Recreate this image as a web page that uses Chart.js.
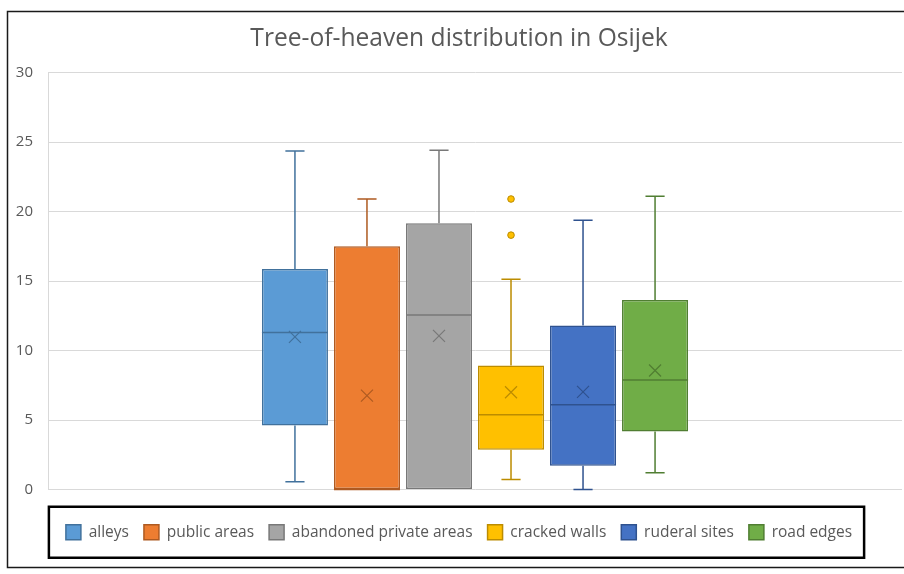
<!DOCTYPE html>
<html>
<head>
<meta charset="utf-8">
<title>Tree-of-heaven distribution in Osijek</title>
<script src="https://cdn.jsdelivr.net/npm/chart.js@4"></script>
<style>
    html, body { margin: 0; padding: 0; overflow: hidden; background: #fff; }
    #wrap { position: relative; width: 920px; height: 574px; }
</style>
</head>
<body>
<div id="wrap"><canvas id="chart"></canvas></div>
<script>
// box-and-whisker stats
const categories = [''];
const seriesNames = ['alleys', 'public areas', 'abandoned private areas', 'cracked walls', 'ruderal sites', 'road edges'];
const whiskerLow = [0.55, 0, 0, 0.72, 0, 1.2];
const q1 = [4.6, 0, 0, 2.86, 1.71, 4.18];
const median = [11.3, 0, 12.55, 5.38, 6.1, 7.88];
const q3 = [15.86, 17.5, 19.15, 8.92, 11.8, 13.63];
const whiskerHigh = [24.35, 20.9, 24.4, 15.12, 19.37, 21.1];
const mean = [10.98, 6.75, 11.05, 7.0, 7.02, 8.56];
const outliers = [[], [], [], [20.9, 18.3], [], []];
const yTicks = [0, 5, 10, 15, 20, 25, 30];

const fills = ['#5B9BD5', '#ED7D31', '#A5A5A5', '#FFC000', '#4472C4', '#70AD47'];
const strokes = ['#41719C', '#AE5A21', '#787878', '#BC8C00', '#2F528F', '#507E32'];

const textColor = '#595959';
const fontFamily = "'Open Sans', 'Noto Sans', sans-serif";

const boxWhisker = {
    id: 'boxWhisker',
    beforeDraw(chart) {
        const ctx = chart.ctx;
        ctx.save();
        ctx.fillStyle = '#fff';
        ctx.fillRect(0, 0, chart.width, chart.height);
        ctx.strokeStyle = '#1a1a1a';
        ctx.lineWidth = 1.5;
        ctx.strokeRect(7.5, 11.5, 906, 556);
        ctx.restore();
    },
    beforeDatasetsDraw(chart) {
        const ctx = chart.ctx;
        const y = chart.scales.y;
        ctx.save();
        chart.data.datasets.forEach((ds, i) => {
            const bar = chart.getDatasetMeta(i).data[0];
            if (!bar) return;
            const cap = bar.width * 0.29;
            ctx.strokeStyle = strokes[i];
            ctx.lineWidth = 1.5;
            ctx.beginPath();
            ctx.moveTo(bar.x, y.getPixelForValue(q3[i]));
            ctx.lineTo(bar.x, y.getPixelForValue(whiskerHigh[i]));
            ctx.moveTo(bar.x - cap / 2, y.getPixelForValue(whiskerHigh[i]));
            ctx.lineTo(bar.x + cap / 2, y.getPixelForValue(whiskerHigh[i]));
            if (whiskerLow[i] < q1[i]) {
                ctx.moveTo(bar.x, y.getPixelForValue(q1[i]));
                ctx.lineTo(bar.x, y.getPixelForValue(whiskerLow[i]));
                ctx.moveTo(bar.x - cap / 2, y.getPixelForValue(whiskerLow[i]));
                ctx.lineTo(bar.x + cap / 2, y.getPixelForValue(whiskerLow[i]));
            }
            ctx.stroke();
        });
        ctx.restore();
    },
    afterDatasetsDraw(chart) {
        const ctx = chart.ctx;
        const y = chart.scales.y;
        ctx.save();
        chart.data.datasets.forEach((ds, i) => {
            const bar = chart.getDatasetMeta(i).data[0];
            if (!bar) return;
            const half = bar.width / 2;
            ctx.strokeStyle = strokes[i];
            ctx.lineWidth = 1.5;
            // median
            const my = y.getPixelForValue(median[i]);
            ctx.beginPath();
            ctx.moveTo(bar.x - half, my);
            ctx.lineTo(bar.x + half, my);
            ctx.stroke();
            // mean marker
            const ay = y.getPixelForValue(mean[i]);
            const s = 6;
            ctx.lineWidth = 1.2;
            ctx.beginPath();
            ctx.moveTo(bar.x - s, ay - s);
            ctx.lineTo(bar.x + s, ay + s);
            ctx.moveTo(bar.x + s, ay - s);
            ctx.lineTo(bar.x - s, ay + s);
            ctx.stroke();
            // outliers
            outliers[i].forEach(v => {
                ctx.beginPath();
                ctx.arc(bar.x, y.getPixelForValue(v), 3.3, 0, Math.PI * 2);
                ctx.fillStyle = fills[i];
                ctx.fill();
                ctx.lineWidth = 1;
                ctx.stroke();
            });
        });
        ctx.restore();
    },
    afterDraw(chart) {
        // frame round the legend
        const boxes = chart.legend && chart.legend.legendHitBoxes;
        if (!boxes || !boxes.length) return;
        const left = Math.min(...boxes.map(b => b.left)) - 17;
        const right = Math.max(...boxes.map(b => b.left + b.width)) + 12;
        const cy = boxes[0].top + boxes[0].height / 2;
        const ctx = chart.ctx;
        ctx.save();
        ctx.strokeStyle = '#000';
        ctx.lineWidth = 2.5;
        ctx.strokeRect(left, cy - 25.5, right - left, 51);
        ctx.restore();
    }
};

new Chart(document.getElementById('chart'), {
    type: 'bar',
    data: {
        labels: categories,
        datasets: seriesNames.map((name, i) => ({
            label: name,
            data: [[q1[i], q3[i]]],
            backgroundColor: fills[i],
            borderColor: strokes[i],
            borderWidth: 1.5,
            borderSkipped: false
        }))
    },
    options: {
        responsive: true,
        maintainAspectRatio: false,
        animation: false,
        categoryPercentage: 0.506,
        barPercentage: 0.917,
        layout: {
            padding: {left: 16, right: 18, top: 12, bottom: 24}
        },
        plugins: {
            title: {
                display: true,
                text: 'Tree-of-heaven distribution in Osijek',
                color: textColor,
                font: {family: fontFamily, size: 24.6, weight: 'normal'},
                padding: {top: 12, bottom: 19}
            },
            legend: {
                position: 'bottom',
                labels: {
                    boxWidth: 15,
                    boxHeight: 15,
                    padding: 15,
                    color: textColor,
                    font: {family: fontFamily, size: 15.5}
                }
            },
            tooltip: {enabled: false}
        },
        scales: {
            x: {
                grid: {display: false},
                border: {display: false},
                ticks: {display: false},
                afterFit: (scale) => { scale.height = 20; }
            },
            y: {
                min: 0,
                max: 30,
                afterBuildTicks: (scale) => {
                    scale.ticks = yTicks.map(v => ({value: v}));
                },
                afterFit: (scale) => { scale.width = 32; },
                grid: {color: '#d9d9d9', lineWidth: 1, drawTicks: false},
                border: {display: true, color: '#d9d9d9'},
                ticks: {
                    color: textColor,
                    padding: 15,
                    font: {family: fontFamily, size: 15}
                }
            }
        }
    },
    plugins: [boxWhisker]
});
</script>
</body>
</html>
